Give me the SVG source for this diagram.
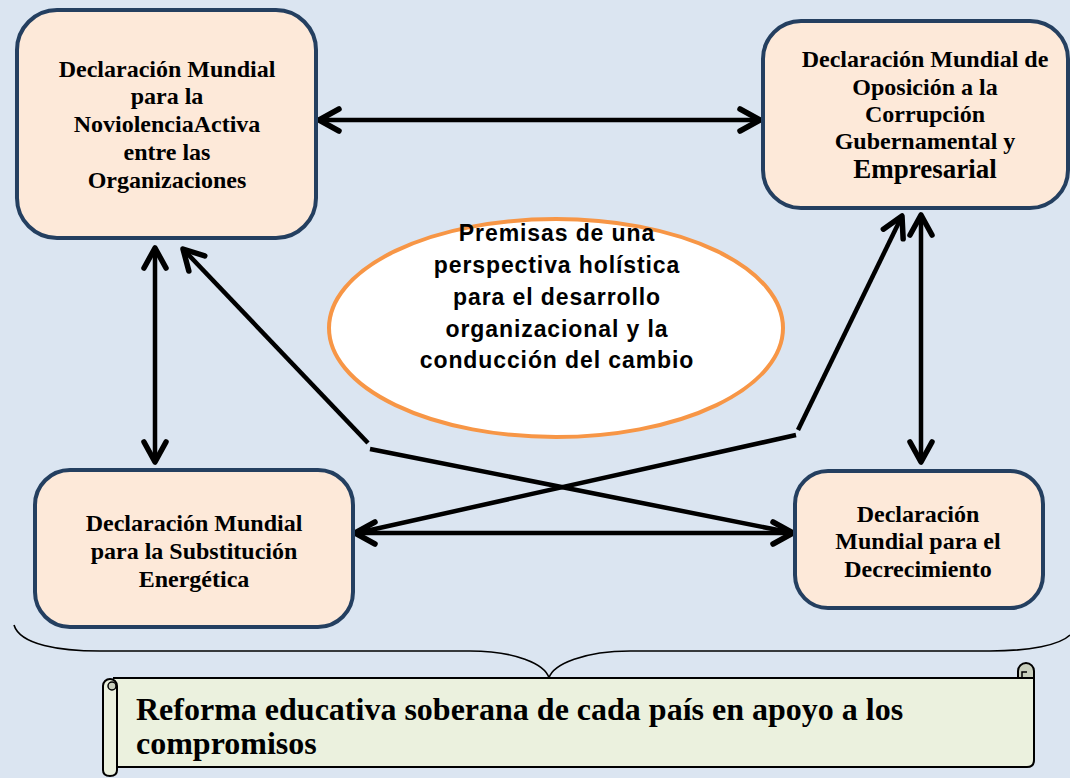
<svg xmlns="http://www.w3.org/2000/svg" width="1070" height="778" viewBox="0 0 1070 778">
<style>
.box{fill:#fde9d9;stroke:#243f60;stroke-width:4}
.bt{font-family:"Liberation Serif",serif;font-weight:bold;font-size:24px;fill:#000;text-anchor:middle}
.et{font-family:"Liberation Sans",sans-serif;font-weight:bold;font-size:23px;letter-spacing:0.9px;fill:#000;text-anchor:middle}
.st{font-family:"Liberation Serif",serif;font-weight:bold;font-size:32px;fill:#000}
.c{fill:none;stroke:#000;stroke-width:4.5;stroke-linecap:butt}
</style>
<defs>
<marker id="ah" viewBox="-25 -15 30 30" refX="0" refY="0" markerWidth="30" markerHeight="30" markerUnits="userSpaceOnUse" orient="auto-start-reverse">
<path d="M -20 -11 L 0 0 L -20 11" fill="none" stroke="#000" stroke-width="5.5" stroke-linecap="round" stroke-linejoin="round"/>
</marker>
</defs>
<rect width="1070" height="778" fill="#dbe5f1"/>

<g id="connectors">
<line class="c" x1="319" y1="120" x2="760" y2="120" marker-start="url(#ah)" marker-end="url(#ah)"/>
<line class="c" x1="155" y1="248" x2="155" y2="462" marker-start="url(#ah)" marker-end="url(#ah)"/>
<line class="c" x1="921" y1="215" x2="921" y2="462" marker-start="url(#ah)" marker-end="url(#ah)"/>
<line class="c" x1="355" y1="533" x2="793" y2="533" marker-start="url(#ah)" marker-end="url(#ah)"/>
<line class="c" x1="368" y1="443" x2="183" y2="249" marker-end="url(#ah)"/>
<line class="c" x1="370" y1="449" x2="793" y2="533"/>
<line class="c" x1="357" y1="533" x2="796" y2="435"/>
<line class="c" x1="798" y1="430" x2="902" y2="216" marker-end="url(#ah)"/>
</g>

<g id="node-noviolencia">
<rect class="box" x="17" y="10" width="299" height="228" rx="40"/>
<text class="bt" x="167" y="77">Declaración Mundial</text>
<text class="bt" x="167" y="104">para la</text>
<text class="bt" x="167" y="132">NoviolenciaActiva</text>
<text class="bt" x="167" y="160">entre las</text>
<text class="bt" x="167" y="188">Organizaciones</text>
</g>

<g id="node-corrupcion">
<rect class="box" x="763" y="21" width="305" height="187" rx="38"/>
<text class="bt" x="925" y="67">Declaración Mundial de</text>
<text class="bt" x="925" y="95">Oposición a la</text>
<text class="bt" x="925" y="122">Corrupción</text>
<text class="bt" x="925" y="149">Gubernamental y</text>
<text class="bt" x="925" y="178" style="font-size:27px">Empresarial</text>
</g>

<g id="node-energetica">
<rect class="box" x="35" y="470" width="318" height="157" rx="35"/>
<text class="bt" x="194" y="531">Declaración Mundial</text>
<text class="bt" x="194" y="559">para la Substitución</text>
<text class="bt" x="194" y="587">Energética</text>
</g>

<g id="node-decrecimiento">
<rect class="box" x="795" y="471" width="248" height="137" rx="33"/>
<text class="bt" x="918" y="522">Declaración</text>
<text class="bt" x="918" y="549">Mundial para el</text>
<text class="bt" x="918" y="577">Decrecimiento</text>
</g>

<g id="node-premisas">
<ellipse cx="556" cy="328" rx="227" ry="109" fill="#fff" stroke="#f79646" stroke-width="4"/>
<text class="et" x="557" y="241">Premisas de una</text>
<text class="et" x="557" y="273">perspectiva holística</text>
<text class="et" x="557" y="305">para el desarrollo</text>
<text class="et" x="557" y="337">organizacional y la</text>
<text class="et" x="557" y="368">conducción del cambio</text>
</g>

<g id="brace">
<path d="M 14 625 C 20 645 60 651 100 651 L 470 651 C 515 651 545 664 549 678 C 553 664 585 651 630 651 L 990 651 C 1030 651 1060 645 1070 635" fill="none" stroke="#000" stroke-width="1.6"/>
</g>

<g id="node-reforma">
<path d="M 113 678 L 1034 678 L 1034 760 Q 1034 767 1027 767 L 117 767" fill="#ebf1de" stroke="#000" stroke-width="2"/>
<path d="M 1018 678 L 1018 671 A 8 8 0 1 1 1034 671 L 1034 678 Z" fill="#c9cfbd" stroke="#000" stroke-width="2"/>
<path d="M 1022 677 L 1022 672 L 1027 672" fill="none" stroke="#000" stroke-width="1.5"/>
<path d="M 103 686 A 7 7 0 0 1 117 686 L 117 770 Q 117 776 110 776 Q 103 776 103 770 Z" fill="#ebf1de" stroke="#000" stroke-width="2"/>
<circle cx="112" cy="686" r="4" fill="#c9cfbd" stroke="#000" stroke-width="1.5"/>
<text class="st" x="136" y="720">Reforma educativa soberana de cada país en apoyo a los</text>
<text class="st" x="136" y="754">compromisos</text>
</g>
</svg>
